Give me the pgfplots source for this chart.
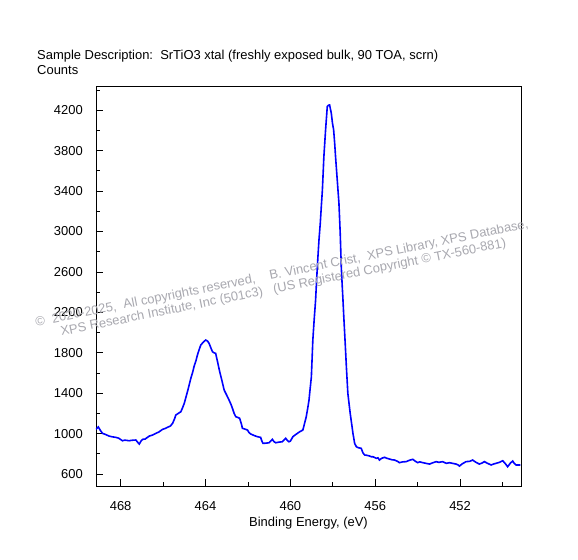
\documentclass[border=0pt]{standalone}
\usepackage{pgfplots}
\pgfplotsset{compat=1.18}
\usepackage{fontspec}
\setmainfont{Liberation Sans}
\definecolor{wm}{RGB}{168,168,175}
\begin{document}
\begin{tikzpicture}[font=\fontsize{13}{15}\selectfont]
\path[use as bounding box] (-96bp,-74bp) rectangle (482bp,486bp);
\begin{axis}[
  scale only axis,
  width=425bp, height=400bp,
  at={(0,0)}, anchor=south west,
  x dir=reverse,
  xmin=449.13, xmax=469.16,
  ymin=481, ymax=4440,
  xtick={452,456,460,464,468},
  minor xtick={450,454,458,462,466},
  ytick={600,1000,1400,1800,2200,2600,3000,3400,3800,4200},
  minor ytick={800,1200,1600,2000,2400,2800,3200,3600,4000,4400},
  tick align=inside,
  tick pos=left,
  major tick length=7bp,
  minor tick length=4bp,
  every tick/.style={black, line width=0.8bp},
  axis line style={line width=0.8bp},
  /pgf/number format/assume math mode=true,
  /pgf/number format/1000 sep={},
  xticklabel style={anchor=north, inner sep=0pt, yshift=-15.7bp},
  yticklabel style={anchor=east, inner sep=0pt, xshift=-13bp},
  xlabel={Binding Energy, (eV)},
  xlabel style={at={(axis description cs:0.5,0)}, anchor=base, inner sep=0pt, yshift=-40.7bp},
  clip=true,
]
\addplot[color={rgb,255:red,0;green,0;blue,255}, line width=1.6bp] coordinates {
(469.16,1042) (469.05,1065) (468.95,1030) (468.85,1002) (468.70,990) (468.54,975)
(468.40,968) (468.22,962) (468.10,955) (467.91,929) (467.80,935) (467.60,929)
(467.45,934) (467.28,936) (467.20,915) (467.12,896) (467.04,925) (466.96,943)
(466.85,945) (466.65,975) (466.50,985) (466.34,1002) (466.20,1015) (466.02,1042)
(465.90,1050) (465.79,1062) (465.65,1075) (465.55,1101) (465.45,1150) (465.40,1183)
(465.28,1200) (465.16,1216) (465.08,1255) (465.00,1299) (464.92,1360) (464.85,1414)
(464.77,1480) (464.69,1547) (464.60,1610) (464.54,1662) (464.45,1720) (464.38,1777)
(464.30,1830) (464.22,1877) (464.10,1905) (463.99,1926) (463.90,1915) (463.83,1893)
(463.75,1850) (463.67,1810) (463.60,1800) (463.52,1794) (463.42,1700) (463.33,1612)
(463.22,1520) (463.12,1431) (463.00,1380) (462.89,1332) (462.80,1290) (462.73,1250)
(462.65,1200) (462.57,1167) (462.48,1160) (462.39,1151) (462.30,1090) (462.26,1052)
(462.15,1045) (462.02,1035) (461.95,1010) (461.87,996) (461.70,980) (461.55,969)
(461.40,962) (461.35,930) (461.29,903) (461.15,905) (461.01,909) (460.93,925)
(460.85,943) (460.77,920) (460.69,909) (460.55,915) (460.38,919) (460.30,935)
(460.22,953) (460.15,935) (460.07,919) (460.00,925) (459.88,969) (459.75,990)
(459.56,1018) (459.41,1035) (459.33,1101) (459.25,1167) (459.17,1266) (459.12,1332)
(459.09,1398) (459.01,1560) (458.94,1926) (458.88,2120) (458.81,2322) (458.76,2530)
(458.70,2751) (458.65,2920) (458.59,3081) (458.54,3250) (458.49,3411) (458.42,3741)
(458.34,4005) (458.26,4236) (458.20,4250) (458.15,4252) (458.07,4170) (458.02,4080)
(457.96,4005) (457.91,3870) (457.87,3741) (457.79,3510) (457.71,3279) (457.65,2982)
(457.60,2652) (457.56,2480) (457.52,2322) (457.48,2150) (457.44,1992) (457.40,1830)
(457.36,1662) (457.29,1398) (457.23,1290) (457.18,1200) (457.10,1080) (457.05,1002)
(456.97,903) (456.89,870) (456.80,860) (456.66,854) (456.58,810) (456.50,788)
(456.40,785) (456.27,778) (456.19,771) (456.10,770) (455.95,755) (455.87,760)
(455.80,738) (455.70,755) (455.56,765) (455.45,755) (455.33,748) (455.20,740)
(455.09,738) (454.95,725) (454.86,712) (454.70,720) (454.54,722) (454.40,735)
(454.23,745) (454.10,725) (454.00,712) (453.90,720) (453.76,712) (453.60,705)
(453.44,698) (453.30,710) (453.13,722) (453.00,715) (452.82,722) (452.65,705)
(452.50,712) (452.35,705) (452.19,698) (452.10,690) (452.03,678) (451.90,700)
(451.72,722) (451.55,725) (451.41,738) (451.25,715) (451.09,698) (450.95,710)
(450.86,722) (450.70,705) (450.54,689) (450.40,700) (450.31,705) (450.15,715)
(449.99,731) (449.88,705) (449.76,672) (449.62,710) (449.52,728) (449.45,705)
(449.36,689) (449.16,689)
};
\end{axis}
\node[anchor=base west, inner sep=0pt] at (-59bp,426.7bp) {Sample Description:\ \ SrTiO3 xtal (freshly exposed bulk, 90 TOA, scrn)};
\node[anchor=base west, inner sep=0pt] at (-59bp,411bp) {Counts};
\node[wm, rotate=11.3, inner sep=0pt] at (186bp,212bp) {©\ \ 2020-2025,\ \ All copyrights reserved,\ \ \ \ B. Vincent Crist,\ \ XPS Library, XPS Database,};
\node[wm, rotate=11.3, inner sep=0pt] at (187.5bp,198bp) {XPS Research Institute, Inc (501c3)\ \ \ (US Registered Copyright © TX-560-881)};
\end{tikzpicture}
\end{document}
